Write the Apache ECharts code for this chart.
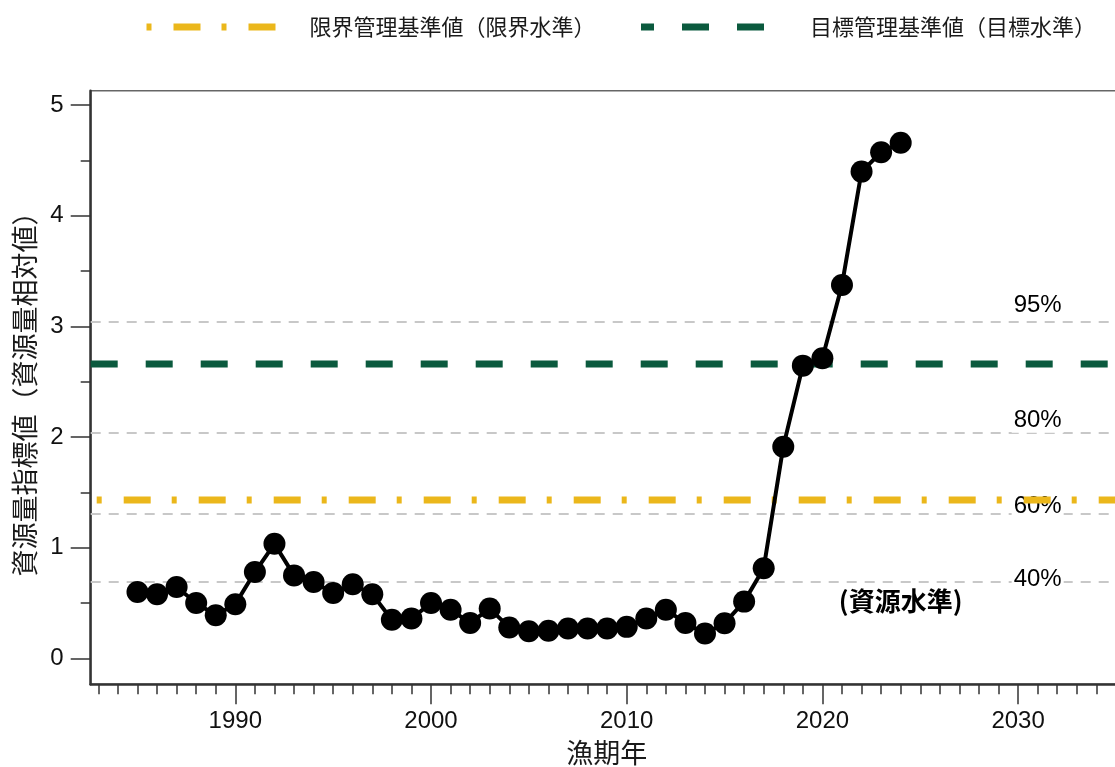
<!DOCTYPE html>
<html>
<head>
<meta charset="utf-8">
<script src="https://cdn.jsdelivr.net/npm/echarts@6/dist/echarts.min.js"></script>
<style>
html,body{margin:0;padding:0;background:#fff;}
#main{width:1115px;height:767px;}
</style>
</head>
<body>
<div id="main"></div>
<script>
// ---- data ----
var years = [1985,1986,1987,1988,1989,1990,1991,1992,1993,1994,1995,1996,1997,1998,1999,
             2000,2001,2002,2003,2004,2005,2006,2007,2008,2009,2010,2011,2012,2013,2014,
             2015,2016,2017,2018,2019,2020,2021,2022,2023,2024];
var indexValues = [0.60,0.58,0.645,0.50,0.39,0.49,0.78,1.035,0.75,0.69,0.59,0.67,0.58,0.35,0.36,
                   0.50,0.44,0.32,0.45,0.28,0.245,0.25,0.27,0.27,0.27,0.285,0.36,0.44,0.32,0.225,
                   0.318,0.513,0.815,1.913,2.645,2.712,3.374,4.398,4.573,4.659];
var limitRef = 1.432;   // 限界管理基準値
var targetRef = 2.66;   // 目標管理基準値
var pctLevels = [3.042, 2.043, 1.312, 0.685];
var pctNames = ['95%', '80%', '60%', '40%'];
var pctLabelY = [3.19, 2.146, 1.371, 0.718];
var pctLabelX = 2031;
var levelLabel = '(資源水準)';
var levelLabelPos = [2024, 0.515];
var xMajorTicks = [1990, 2000, 2010, 2020, 2030];
var xMinorTicks = [];
for (var y = 1983; y <= 2035; y++) xMinorTicks.push(y);
var yMajorTicks = [0, 1, 2, 3, 4, 5];
var yMinorTicks = [0.5, 1.5, 2.5, 3.5, 4.5];
var legendNames = ['限界管理基準値（限界水準）', '目標管理基準値（目標水準）'];
var xName = '漁期年';
var yName = '資源量指標値（資源量相対値）';

var X_MIN = 1982.61, X_MAX = 2035.36, Y_MIN = -0.234, Y_MAX = 5.129;

var numFont = "'Liberation Sans', Arial, 'Noto Sans CJK JP', sans-serif";
var cjkFont = "'Noto Sans CJK JP', 'Noto Sans', sans-serif";

var chart = echarts.init(document.getElementById('main'), null, {renderer: 'canvas'});

var option = {
  animation: false,
  backgroundColor: '#ffffff',
  grid: {
    left: 90.7, right: -8, top: 90.7, bottom: 82.7,
    show: true, borderColor: '#666', borderWidth: 1.5, backgroundColor: 'transparent',
    containLabel: false, outerBoundsMode: 'none'
  },
  legend: {
    show: true,
    left: 137, top: 16, padding: 0,
    itemWidth: 138, itemHeight: 14, itemGap: 42,
    data: legendNames,
    textStyle: {fontSize: 22, color: '#1a1a1a', fontFamily: cjkFont, padding: [0, 0, 0, 26]},
    itemStyle: {opacity: 0},
    lineStyle: {width: 7}
  },
  xAxis: [{
    type: 'value', min: X_MIN, max: X_MAX, gridIndex: 0,
    name: xName, nameLocation: 'middle', nameGap: 55,
    nameTextStyle: {fontSize: 27, color: '#1a1a1a', fontFamily: cjkFont},
    axisLine: {show: true, onZero: false, lineStyle: {color: '#333', width: 2.5}},
    axisTick: {show: true, length: 20, customValues: xMajorTicks, lineStyle: {color: '#333', width: 1.5}},
    axisLabel: {show: true, customValues: xMajorTicks, margin: 25, fontSize: 24, color: '#111', fontFamily: numFont,
                formatter: function (v) { return String(Math.round(v)); }},
    splitLine: {show: false}
  }, {
    type: 'value', min: X_MIN, max: X_MAX, gridIndex: 0, position: 'bottom',
    axisLine: {show: false, onZero: false},
    axisTick: {show: true, length: 10, customValues: xMinorTicks, lineStyle: {color: '#333', width: 1.5}},
    axisLabel: {show: false},
    splitLine: {show: false}
  }],
  yAxis: [{
    type: 'value', min: Y_MIN, max: Y_MAX, gridIndex: 0,
    name: yName, nameLocation: 'middle', nameGap: 52, nameRotate: 90,
    nameTextStyle: {fontSize: 27, color: '#1a1a1a', fontFamily: cjkFont},
    axisLine: {show: true, onZero: false, lineStyle: {color: '#333', width: 2.5}},
    axisTick: {show: true, length: 20, customValues: yMajorTicks, lineStyle: {color: '#333', width: 1.5}},
    axisLabel: {show: true, customValues: yMajorTicks, margin: 27, fontSize: 24, color: '#111', fontFamily: numFont,
                formatter: function (v) { return String(Math.round(v)); }},
    splitLine: {show: false}
  }, {
    type: 'value', min: Y_MIN, max: Y_MAX, gridIndex: 0, position: 'left',
    axisLine: {show: false, onZero: false},
    axisTick: {show: true, length: 10, customValues: yMinorTicks, lineStyle: {color: '#333', width: 1.5}},
    axisLabel: {show: false},
    splitLine: {show: false}
  }],
  series: [
    {
      name: 'percentiles', type: 'line', data: [], z: 1, silent: true,
      markLine: {
        silent: true, symbol: 'none', label: {show: false}, z: 1,
        lineStyle: {color: '#c8c8c8', width: 2, type: [10, 8]},
        data: pctLevels.map(function (v) { return {yAxis: v}; })
      },
      markPoint: {
        silent: true, symbol: 'circle', symbolSize: 1, z: 2,
        itemStyle: {color: 'rgba(0,0,0,0)', opacity: 1},
        label: {
          show: true, position: 'inside', formatter: '{b}',
          fontSize: 24, color: '#000', fontFamily: numFont,
          backgroundColor: '#fff', padding: [0, 2]
        },
        data: pctNames.map(function (n, i) { return {name: n, coord: [pctLabelX, pctLabelY[i]]}; })
          .concat([{name: levelLabel, coord: levelLabelPos,
                    label: {fontFamily: cjkFont, fontSize: 26, fontWeight: 'bold', color: '#000', backgroundColor: 'transparent'}}])
      }
    },
    {
      name: legendNames[0], type: 'line', z: 3, silent: true,
      showSymbol: false, symbol: 'none',
      data: [[X_MIN, limitRef], [X_MAX, limitRef]],
      lineStyle: {color: '#ebb71b', width: 7, type: [5, 22, 27, 21], dashOffset: 69, cap: 'butt'},
      itemStyle: {color: '#ebb71b'}
    },
    {
      name: legendNames[1], type: 'line', z: 3, silent: true,
      showSymbol: false, symbol: 'none',
      data: [[X_MIN, targetRef], [X_MAX, targetRef]],
      lineStyle: {color: '#0b5a3e', width: 7, type: [27, 28], cap: 'butt'},
      itemStyle: {color: '#0b5a3e'}
    },
    {
      name: 'index', type: 'line', z: 5,
      data: years.map(function (yr, i) { return [yr, indexValues[i]]; }),
      symbol: 'circle', symbolSize: 22, showSymbol: true,
      lineStyle: {color: '#000', width: 4},
      itemStyle: {color: '#000'}
    }
  ]
};
chart.setOption(option);
</script>
</body>
</html>
